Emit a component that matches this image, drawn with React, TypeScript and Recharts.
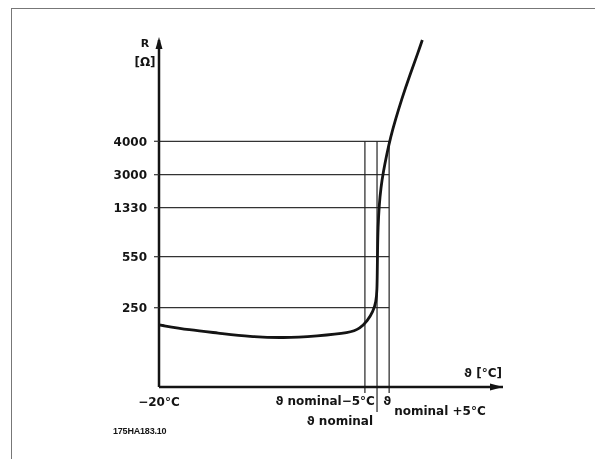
import React from 'react';
import { LineChart, Line, XAxis, YAxis, ReferenceLine, ReferenceDot } from 'recharts';

// Temperature (°C, nominal taken as 70) and schematic resistance level (0..100 axis height)
const curveTemp = [-20, -7.2, 4.0, 17.6, 31.3, 45.3, 59.0, 63.0, 66.0, 68.4, 69.6, 70.0, 70.1, 70.2, 70.4, 70.9, 71.6, 72.6, 74.0, 75.6, 77.6, 80.2, 83.6, 87.0, 88.7];
const curveLevel = [17.9, 16.4, 15.6, 14.5, 14.1, 14.7, 15.6, 16.9, 19.0, 21.8, 24.5, 28.0, 33.0, 39.0, 46.0, 52.5, 57.5, 62.0, 67.0, 72.0, 77.0, 83.0, 90.0, 96.5, 100];

const yTickLevels = [22.85, 37.55, 51.67, 61.18, 70.81];
const yTickLabels = ['250', '550', '1330', '3000', '4000'];

const xTickValues = [-20, 65, 70, 75];
const xTickLabels = ['\u221220\u00b0C', '\u03d1 nominal\u22125\u00b0C', '\u03d1 nominal', '\u03d1|nominal +5\u00b0C'];

const data = curveTemp.map((t, i) => ({ t, r: curveLevel[i] }));

const FONT = '"DejaVu Sans", sans-serif';
const INK = '#141414';
const FS = 12;

const XTick = (props: any) => {
  const { x, y, payload } = props;
  const idx = xTickValues.indexOf(payload.value);
  const label = xTickLabels[idx];
  const common = { fontFamily: FONT, fontSize: FS, fontWeight: 'bold', fill: INK } as any;
  if (idx === 0) {
    return <text x={x} y={y + 19} textAnchor="middle" {...common}>{label}</text>;
  }
  if (idx === 1) {
    return <text x={x + 10} y={y + 17.5} textAnchor="end" {...common}>{label}</text>;
  }
  if (idx === 2) {
    return <text x={x - 4} y={y + 38} textAnchor="end" {...common}>{label}</text>;
  }
  const parts = label.split('|');
  return (
    <g>
      <text x={x - 6} y={y + 17.5} {...common}>{parts[0]}</text>
      <text x={x + 5} y={y + 27.5} {...common}>{parts[1]}</text>
    </g>
  );
};

const YLabel = (props: any) => {
  const vb = props.viewBox || {};
  const ax = vb.x + vb.width;
  const top = vb.y;
  return (
    <g>
      <text x={ax - 14} y={top + 7} textAnchor="middle" fontFamily={FONT} fontSize={11} fontWeight="bold" fill={INK}>R</text>
      <text x={ax - 14} y={top + 26} textAnchor="middle" fontFamily={FONT} fontSize={12} fontWeight="bold" fill={INK}>[{'\u03a9'}]</text>
    </g>
  );
};

const XLabel = (props: any) => {
  const vb = props.viewBox || {};
  return (
    <text x={vb.x + vb.width - 1} y={vb.y - 10} textAnchor="end" fontFamily={FONT} fontSize={FS} fontWeight="bold" fill={INK}>
      {'\u03d1 [\u00b0C]'}
    </text>
  );
};

const UpArrow = (p: any) => (
  <polygon points={`${p.cx},${p.cy - 3} ${p.cx - 3.5},${p.cy + 9} ${p.cx + 3.5},${p.cy + 9}`} fill={INK} />
);
const RightArrow = (p: any) => (
  <polygon points={`${p.cx},${p.cy} ${p.cx - 13},${p.cy - 3.5} ${p.cx - 13},${p.cy + 3.5}`} fill={INK} />
);

export default function App() {
  return (
    <div>
      <div style={{ position: 'fixed', left: 11, top: 8, width: 620, height: 520, borderTop: '1px solid #777', borderLeft: '1px solid #777' }} />
      <div style={{ position: 'fixed', left: 0, top: 0 }}>
        <LineChart width={595} height={459} data={data} margin={{ top: 40, right: 92, bottom: 0, left: 0 }}>
          <XAxis
            dataKey="t"
            type="number"
            domain={[-20, 122]}
            ticks={xTickValues}
            tick={<XTick />}
            tickLine={false}
            tickSize={0}
            tickMargin={0}
            axisLine={{ stroke: INK, strokeWidth: 2.5 }}
            height={72}
            interval={0}
            label={<XLabel />}
          />
          <YAxis
            type="number"
            domain={[0, 100]}
            ticks={yTickLevels}
            tickFormatter={(v: number) => yTickLabels[yTickLevels.indexOf(v)]}
            tick={{ fontFamily: FONT, fontSize: FS, fontWeight: 'bold', fill: INK }}
            tickLine={{ stroke: '#333', strokeWidth: 1.2 }}
            tickSize={5}
            tickMargin={7}
            axisLine={{ stroke: INK, strokeWidth: 2.5 }}
            width={159}
            interval={0}
            label={<YLabel />}
          />
          {yTickLevels.map((lv) => (
            <ReferenceLine key={'h' + lv} segment={[{ x: -20, y: lv }, { x: 75, y: lv }]} stroke="#333" strokeWidth={1.2} ifOverflow="visible" />
          ))}
          <ReferenceLine segment={[{ x: 65, y: -1.7 }, { x: 65, y: 70.81 }]} stroke="#222" strokeWidth={1.2} ifOverflow="visible" />
          <ReferenceLine segment={[{ x: 70, y: -7.2 }, { x: 70, y: 70.81 }]} stroke="#222" strokeWidth={1.2} ifOverflow="visible" />
          <ReferenceLine segment={[{ x: 75, y: -1.7 }, { x: 75, y: 70.81 }]} stroke="#222" strokeWidth={1.2} ifOverflow="visible" />
          <Line type="basis" dataKey="r" stroke={INK} strokeWidth={2.8} dot={false} isAnimationActive={false} />
          <ReferenceDot x={-20} y={100} r={0} shape={<UpArrow />} ifOverflow="visible" />
          <ReferenceDot x={122} y={0} r={0} shape={<RightArrow />} ifOverflow="visible" />
        </LineChart>
      </div>
      <div style={{ position: 'fixed', left: 113, top: 426, fontFamily: '"Liberation Sans", Arial, sans-serif', fontWeight: 'bold', fontSize: 9, color: INK, letterSpacing: -0.2 }}>
        175HA183.10
      </div>
    </div>
  );
}
